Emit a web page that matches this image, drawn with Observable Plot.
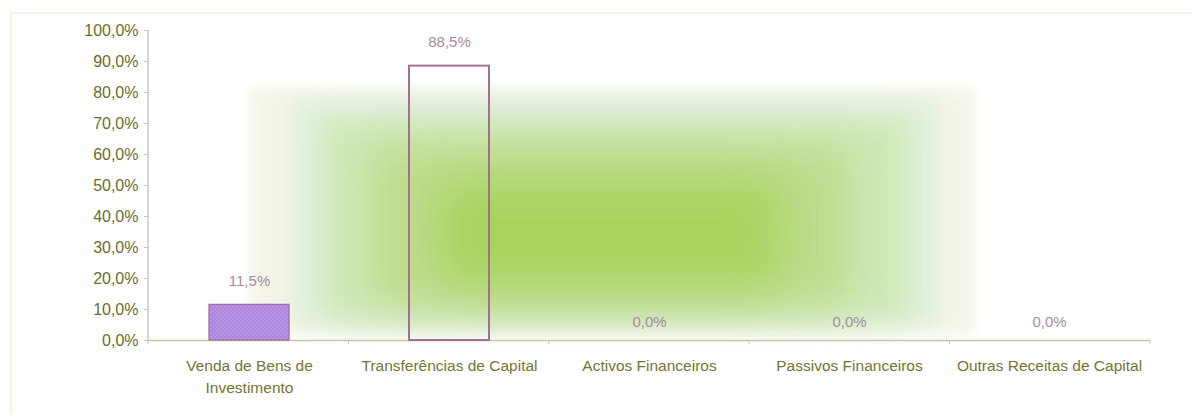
<!DOCTYPE html>
<html>
<head>
<meta charset="utf-8">
<script src="https://cdn.jsdelivr.net/npm/d3@7"></script>
<script src="https://cdn.jsdelivr.net/npm/@observablehq/plot@0.6"></script>
<style>
  html, body { margin: 0; padding: 0; background: #fff; }
  #wrap { position: relative; width: 1196px; height: 419px; overflow: hidden; background: #fff; }
  .g { position: absolute; }
  #g1 { left: 250px; top: 88px; width: 725px; height: 245px; background: #f4f4e8; filter: blur(6px); }
  #g2 { left: 290px; top: 100px; width: 650px; height: 225px; background: #e2f1df; filter: blur(10px); }
  #g3 { left: 320px; top: 118px; width: 590px; height: 200px; background: #cfe8b8; filter: blur(14px); }
  #g4 { left: 370px; top: 145px; width: 480px; height: 160px; background: #bddd8e; filter: blur(20px); }
  #g5 { left: 440px; top: 180px; width: 340px; height: 105px; background: #a8d25c; filter: blur(24px); }
  #frame { position: absolute; left: 10px; top: 12px; width: 1180px; height: 400px;
    border-left: 2px solid #f4f4d8; border-top: 2px solid #f4f4ee; }
  #chart { position: absolute; left: 0; top: 0; }
</style>
</head>
<body>
<div id="wrap">
  <div id="frame"></div>
  <div class="g" id="g1"></div>
  <div class="g" id="g2"></div>
  <div class="g" id="g3"></div>
  <div class="g" id="g4"></div>
  <div class="g" id="g5"></div>
  <div id="chart"></div>
</div>
<script>
const categories = [
  "Venda de Bens de Investimento",
  "Transferências de Capital",
  "Activos Financeiros",
  "Passivos Financeiros",
  "Outras Receitas de Capital"
];
const tickLabels = [
  "Venda de Bens de\nInvestimento",
  "Transferências de Capital",
  "Activos Financeiros",
  "Passivos Financeiros",
  "Outras Receitas de Capital"
];
const values = [11.5, 88.5, 0.0, 0.0, 0.0];
const yTicks = [0, 10, 20, 30, 40, 50, 60, 70, 80, 90, 100];

const data = categories.map((c, i) => ({category: c, value: values[i]}));
const fmt = v => v.toFixed(1).replace(".", ",") + "%";

const W = 1196, H = 419, ML = 148, MR = 46, MT = 30, MB = 79;

const plot = Plot.plot({
  width: W,
  height: H,
  marginLeft: ML,
  marginRight: MR,
  marginTop: MT,
  marginBottom: MB,
  style: {background: "transparent", fontFamily: "Liberation Sans, Arial, sans-serif"},
  x: {domain: categories, paddingInner: 0.6, paddingOuter: 0.3, align: 0.5, label: null},
  y: {domain: [0, 100], label: null},
  marks: [
    Plot.ruleY([0], {stroke: "#c9c7a6", strokeWidth: 1.5}),
    Plot.barY(data.filter((d, i) => i === 0), {
      x: "category", y: "value", fill: "url(#dots)", stroke: "#9a6a9a", strokeWidth: 1.2
    }),
    Plot.barY(data.filter((d, i) => i === 1), {
      x: "category", y: "value", fill: "none", stroke: "#a5708f", strokeWidth: 2
    }),
    Plot.text(data.filter(d => d.value > 0), {
      x: "category", y: "value", text: d => fmt(d.value),
      dy: -24, fill: "#a88a9c", fontSize: 15
    }),
    Plot.text(data.filter(d => d.value === 0), {
      x: "category", y: "value", text: d => fmt(d.value),
      dy: -18, fill: "#a88a9c", fontSize: 15
    }),
    Plot.axisY({
      ticks: yTicks, tickFormat: fmt, tickSize: 4, tickPadding: 6,
      fontSize: 16, color: "#6a6d2c", stroke: "#c4c4cc"
    }),
    Plot.axisX({
      tickSize: 0, tickPadding: 15, fontSize: 15.5, color: "#737632", lineHeight: 1.4,
      tickFormat: (c) => tickLabels[categories.indexOf(c)]
    })
  ]
});

// SVG pattern for the dotted purple fill
const svg = d3.select(plot);
const defs = svg.insert("defs", ":first-child");
const pat = defs.append("pattern").attr("id", "dots").attr("patternUnits", "userSpaceOnUse")
  .attr("width", 4).attr("height", 4);
pat.append("rect").attr("width", 4).attr("height", 4).attr("fill", "#b892e6");
pat.append("circle").attr("cx", 1).attr("cy", 1).attr("r", 0.8).attr("fill", "#9f78cc");
pat.append("circle").attr("cx", 3).attr("cy", 3).attr("r", 0.8).attr("fill", "#9f78cc");

// vertical axis line + band-boundary ticks on the x axis, via the library's scales
const ys = plot.scale("y");
const x0 = ML, x1 = W - MR;
svg.append("line").attr("x1", x0).attr("x2", x0).attr("y1", ys.apply(100)).attr("y2", ys.apply(0))
  .attr("stroke", "#c4c4cc").attr("stroke-width", 1.5);
const step = (x1 - x0) / categories.length;
for (let i = 0; i <= categories.length; i++) {
  svg.append("line").attr("x1", x0 + i * step).attr("x2", x0 + i * step)
    .attr("y1", ys.apply(0)).attr("y2", ys.apply(0) + 4)
    .attr("stroke", "#c9c7a6");
}

document.getElementById("chart").appendChild(plot);
</script>
</body>
</html>
